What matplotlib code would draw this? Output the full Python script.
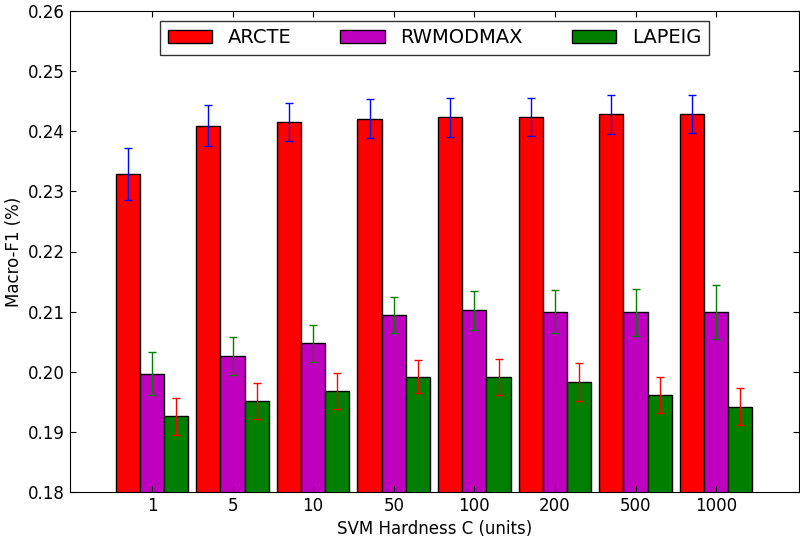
import matplotlib
matplotlib.use("Agg")
import matplotlib.pyplot as plt
import numpy as np

categories = ["1", "5", "10", "50", "100", "200", "500", "1000"]
series_names = ["ARCTE", "RWMODMAX", "LAPEIG"]
arcte = [0.2329, 0.2409, 0.2415, 0.2421, 0.2423, 0.2424, 0.2428, 0.2429]
arcte_err = [0.0043, 0.0034, 0.0032, 0.0033, 0.0032, 0.0032, 0.0032, 0.0032]
rwmodmax = [0.1997, 0.2026, 0.2047, 0.2095, 0.2102, 0.2100, 0.2099, 0.2099]
rwmodmax_err = [0.0036, 0.0031, 0.0031, 0.0030, 0.0033, 0.0036, 0.0039, 0.0045]
lapeig = [0.1926, 0.1952, 0.1968, 0.1992, 0.1991, 0.1983, 0.1962, 0.1942]
lapeig_err = [0.0031, 0.0030, 0.0030, 0.0028, 0.0030, 0.0031, 0.0030, 0.0031]

colors = ["#ff0000", "#bf00bf", "#007f00"]
ecolors = ["#0000ff", "#007f00", "#ff0000"]

fig = plt.figure(figsize=(8.0, 5.39), dpi=100)
ax = fig.add_axes([70/800, 1 - 492/539, 729/800, 481/539])

ind = np.arange(len(categories))
w = 0.3
data = [(arcte, arcte_err), (rwmodmax, rwmodmax_err), (lapeig, lapeig_err)]
for i, ((vals, errs), name) in enumerate(zip(data, series_names)):
    ax.bar(ind + i * w, vals, w, align="edge", color=colors[i], edgecolor="black",
           linewidth=1.0, label=name,
           yerr=errs, error_kw=dict(ecolor=ecolors[i], capsize=3, elinewidth=1, capthick=1))

ax.set_xlim(-0.567, 8.478)
ax.set_ylim(0.18, 0.26)
ax.set_xticks(ind + 0.45)
ax.set_xticklabels(categories)
yt = np.arange(0.18, 0.2601, 0.01)
ax.set_yticks(yt)
ax.set_yticklabels([f"{v:.2f}" for v in yt])
ax.tick_params(direction="in", top=True, right=True, labelsize=12, length=4)
ax.set_xlabel("SVM Hardness C (units)", fontsize=12)
ax.set_ylabel("Macro-F1 (%)", fontsize=12)
leg = ax.legend(loc="upper center", ncol=3, fontsize=14, frameon=True, fancybox=False,
                edgecolor="black", borderaxespad=0.5, handlelength=2.3, columnspacing=2.5)
leg.get_frame().set_linewidth(1.0)
fig.savefig("out.png", dpi=100)
